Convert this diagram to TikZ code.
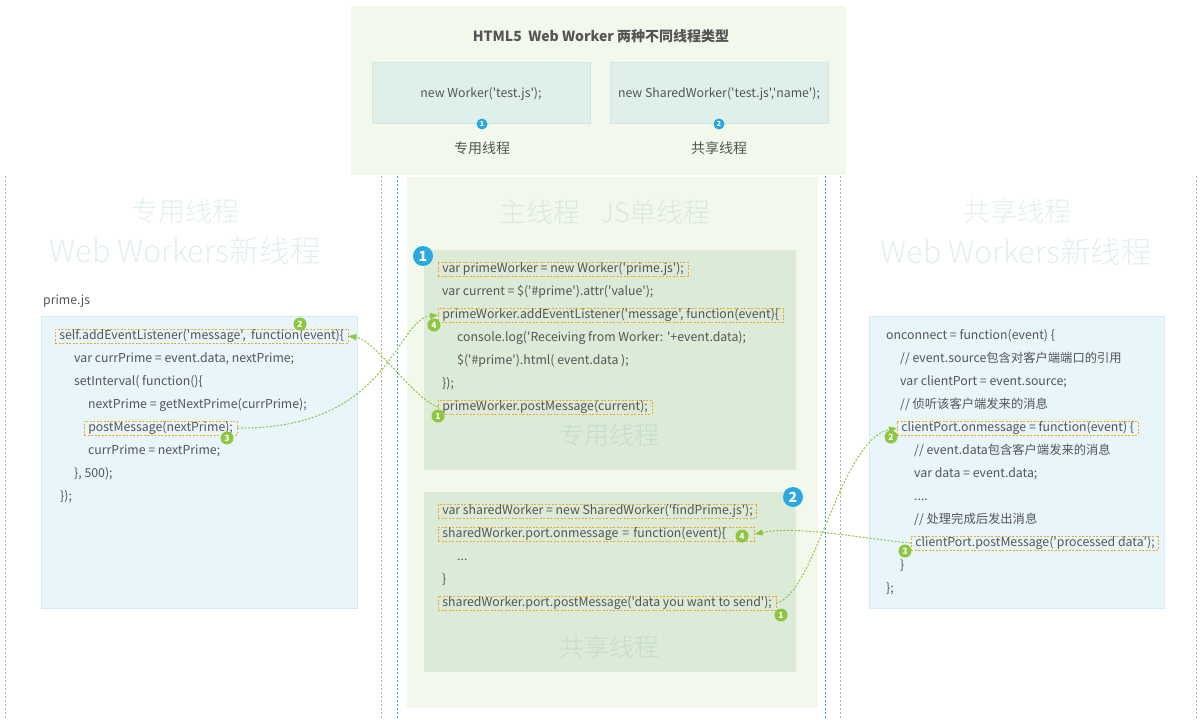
\documentclass[tikz,border=0pt]{standalone}
\usepackage{fontspec}
\setmainfont{Noto Sans CJK SC}[Ligatures=TeXOff]
\newfontfamily\thinfont{Noto Sans CJK SC Light}[Ligatures=TeXOff]
\usetikzlibrary{arrows.meta}
\definecolor{panel}{HTML}{F3F8EC}
\definecolor{inbox}{HTML}{DCEAD8}
\definecolor{topbox}{HTML}{DFF0EA}
\definecolor{topboxb}{HTML}{D2E8DF}
\definecolor{codebox}{HTML}{E8F5FB}
\definecolor{codeboxb}{HTML}{D6EAF4}
\definecolor{txt}{HTML}{555555}
\definecolor{wmark}{HTML}{E3F0EC}
\definecolor{wmarkc}{HTML}{D8E9DA}
\definecolor{wmarki}{HTML}{C4DEC8}
\definecolor{hlor}{HTML}{F5A623}
\definecolor{grn}{HTML}{8DC63F}
\definecolor{blu}{HTML}{29A9E0}
\definecolor{tanl}{HTML}{C9A98C}
\definecolor{blul}{HTML}{2A9FD8}
\newcommand{\codefont}{\fontsize{12.3}{14}\selectfont}
\begin{document}
\begin{tikzpicture}[x=1pt,y=-1pt,
  code/.style={anchor=west,inner sep=0pt,font=\codefont,text=txt,text height=9pt,text depth=3pt},
  hl/.style={code,draw=hlor,dash pattern=on 2pt off 1.5pt,line width=0.7pt,inner xsep=4pt,inner ysep=1pt},
  wm/.style={font=\thinfont\fontsize{27}{27}\selectfont,text=wmark,inner sep=0pt},
  gbadge/.style={circle,fill=grn,text=white,font=\bfseries\fontsize{8.5}{8.5}\selectfont,inner sep=0pt,minimum size=13pt},
  bbadge/.style={circle,fill=blu,text=white,font=\bfseries\fontsize{14}{14}\selectfont,inner sep=0pt,minimum size=20pt},
  sbadge/.style={circle,fill=blu,text=white,font=\bfseries\fontsize{7}{7}\selectfont,inner sep=0pt,minimum size=11pt},
  conn/.style={draw=grn,line width=1pt,dash pattern=on 2pt off 1.6pt,-{Triangle[length=8pt,width=6pt]}},
  vline/.style={line width=0.8pt,dash pattern=on 2pt off 2pt},
  tbox/.style={draw=topboxb,fill=topbox,minimum width=218pt,minimum height=61pt,inner sep=0pt}
]
\useasboundingbox (0,0) rectangle (1200,720);
\fill[white] (0,0) rectangle (1200,720);

% vertical dashed lines
\draw[vline,tanl] (5,176) -- (5,720);
\draw[vline,tanl] (381,176) -- (381,720);
\draw[vline,blul] (397,176) -- (397,720);
\draw[vline,blul] (825,176) -- (825,720);
\draw[vline,tanl] (840,176) -- (840,720);
\draw[vline,tanl] (1196,176) -- (1196,720);

% top panel
\fill[panel] (351,6) rectangle (846,175);
\node[font=\bfseries\fontsize{14}{14}\selectfont,text=txt] (toptitle) at (601,36) {HTML5\ \ Web Worker 两种不同线程类型};
\node[tbox] (tb1) at (481,92.5) {};
\node[tbox] (tb2) at (719,92.5) {};
\node[font=\codefont,text=txt,inner sep=0pt] (tb1t) at (481,94) {new Worker('test.js');};
\node[font=\codefont,text=txt,inner sep=0pt] (tb2t) at (719,94) {new SharedWorker('test.js','name');};
\node[sbadge] (tb1n) at (482,124) {1};
\node[sbadge] (tb2n) at (719,124) {2};
\node[font=\fontsize{14}{14}\selectfont,text=txt] (tb1l) at (482,148) {专用线程};
\node[font=\fontsize{14}{14}\selectfont,text=txt] (tb2l) at (719,148) {共享线程};

% center panel
\fill[panel] (407,177) rectangle (818,708);
\node[wm,text=wmarkc] (ctitle) at (605,212) {主线程\hspace{20pt}JS单线程};
\fill[inbox] (424,250) rectangle (796,470);
\fill[inbox] (424,492) rectangle (796,672);
\node[wm,text=wmarki,font=\thinfont\fontsize{25}{25}\selectfont] (cw1) at (609,435) {专用线程};
\node[wm,text=wmarki,font=\thinfont\fontsize{25}{25}\selectfont] (cw2) at (609,647) {共享线程};

\node[hl] (c1) at (438,269) {var primeWorker = new Worker('prime.js');};
\node[code] (c2) at (442,292) {var current = \$('\#prime').attr('value');};
\node[hl] (cadd) at (438,315) {primeWorker.addEventListener('message', function(event)\{};
\node[code] (c4) at (457,338) {console.log('Receiving from Worker: '+event.data);};
\node[code] (c5) at (457,361) {\$('\#prime').html( event.data );};
\node[code] (c6) at (442,384) {\});};
\node[hl] (cpost) at (438,407) {primeWorker.postMessage(current);};

\node[hl] (s1) at (438,511) {var sharedWorker = new SharedWorker('findPrime.js');};
\node[hl,text width=308pt,align=left] (son) at (438,534) {sharedWorker.port.onmessage = function(event)\{};
\node[code] (s3) at (457,557) {...};
\node[code] (s4) at (442,580) {\}};
\node[hl] (spost) at (438,603) {sharedWorker.port.postMessage('data you want to send');};

\node[bbadge] (cb1) at (423,256) {1};
\node[bbadge] (cb2) at (793,497) {2};

% left panel
\node[wm] (lt1) at (185,211) {专用线程};
\node[wm,font=\thinfont\fontsize{30.5}{30.5}\selectfont] (lt2) at (185,251) {Web Workers新线程};
\node[code,text=txt] (lfile) at (43,301) {prime.js};
\fill[codebox,draw=codeboxb] (41,316) rectangle (357,608);
\node[hl] (lsel) at (55,336) {self.addEventListener('message',\ \ function(event)\{};
\node[code] (l2) at (74,359) {var currPrime = event.data, nextPrime;};
\node[code] (l3) at (74,382) {setInterval( function()\{};
\node[code] (l4) at (88,405) {nextPrime = getNextPrime(currPrime);};
\node[hl] (lpost) at (84,428) {postMessage(nextPrime);};
\node[code] (l6) at (88,451) {currPrime = nextPrime;};
\node[code] (l7) at (74,474) {\}, 500);};
\node[code] (l8) at (60,497) {\});};

% right panel
\node[wm] (rt1) at (1017,211) {共享线程};
\node[wm,font=\thinfont\fontsize{30.5}{30.5}\selectfont] (rt2) at (1016,252) {Web Workers新线程};
\fill[codebox,draw=codeboxb] (869,316) rectangle (1164,608);
\node[code] (r1) at (886,336) {onconnect = function(event) \{};
\node[code] (r2) at (900,359) {// event.source包含对客户端端口的引用};
\node[code] (r3) at (900,382) {var clientPort = event.source;};
\node[code] (r4) at (900,405) {// 侦听该客户端发来的消息};
\node[hl] (ron) at (897,428) {clientPort.onmessage = function(event) \{};
\node[code] (r6) at (914,451) {// event.data包含客户端发来的消息};
\node[code] (r7) at (914,474) {var data = event.data;};
\node[code] (r8) at (914,497) {....};
\node[code] (r9) at (914,520) {// 处理完成后发出消息};
\node[hl] (rpost) at (911,543) {clientPort.postMessage('processed data');};
\node[code] (r11) at (900,566) {\}};
\node[code] (r12) at (886,589) {\};};

% connectors
\draw[conn] (cpost.west) .. controls (415,400) and (375,340) .. (lsel.east);
\draw[conn] (lpost.east) .. controls (390,430) and (395,320) .. (cadd.west);
\draw[conn] (spost.east) .. controls (815,595) and (840,440) .. (ron.west);
\draw[conn] (rpost.west) .. controls (870,540) and (800,525) .. (son.east);

% green step badges
\node[gbadge] (gl2) at (300,324) {2};
\node[gbadge] (gl3) at (227,438) {3};
\node[gbadge] (gc4) at (434,325) {4};
\node[gbadge] (gc1) at (438,416) {1};
\node[gbadge] (gs4) at (742,536) {4};
\node[gbadge] (gs1) at (781,615) {1};
\node[gbadge] (gr2) at (891,437) {2};
\node[gbadge] (gr3) at (905,551) {3};
\end{tikzpicture}
\end{document}
